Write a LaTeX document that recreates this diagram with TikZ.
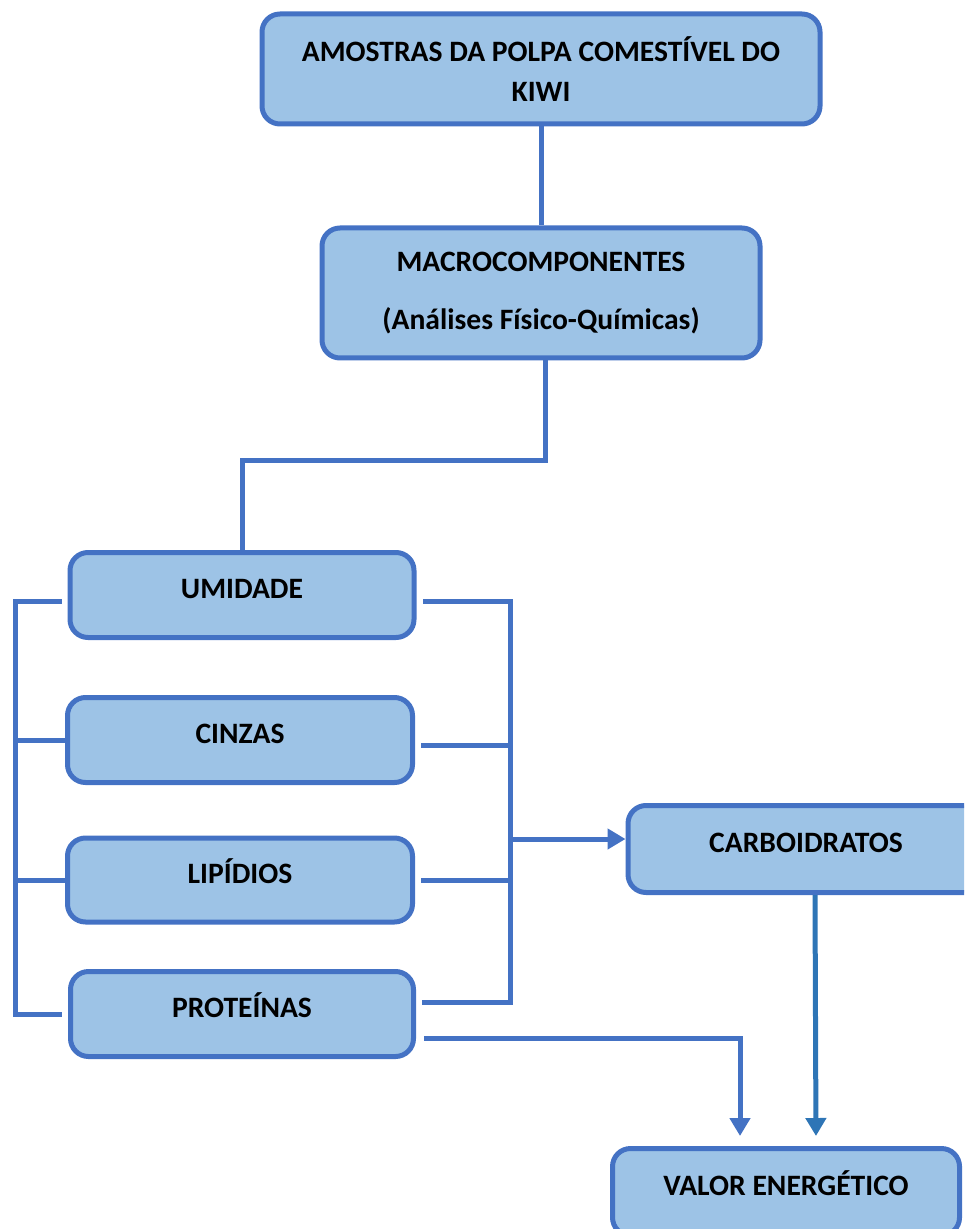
\documentclass[tikz,border=0pt]{standalone}
\usepackage{fontspec}
\setmainfont{Carlito}
\usepackage{xcolor}
\usepackage{tikz}
\usetikzlibrary{
  arrows.meta,
  positioning
}
\definecolor{caixafill}{HTML}{9DC3E6}
\definecolor{caixaline}{HTML}{4472C4}
\definecolor{setaazul}{HTML}{2E75B6}

\begin{document}
\begin{tikzpicture}[
  x=0.5pt, y=-0.5pt,
  caixa/.style={draw=caixaline, fill=caixafill, line width=2.5pt,
                rounded corners=9pt, align=center, inner sep=2pt,
                font=\bfseries\fontsize{14.8}{20}\selectfont},
  umalinha/.style={caixa, text height=10pt, text depth=6.6pt},
  linha/.style={draw=caixaline, line width=2.5pt},
  seta/.style={linha, -{Triangle[length=9pt,width=10pt]}},
]
  \useasboundingbox (0,0) rectangle (964,1229);
  \clip (0,0) rectangle (964,1229);

  % Boxes
  \node[caixa, minimum width=279pt, minimum height=55pt] (amostras)
    at (541, 69) {AMOSTRAS DA POLPA COMESTÍVEL DO\\KIWI};
  \node[caixa, minimum width=219pt, minimum height=65pt] (macro)
    at (541, 293) {MACROCOMPONENTES\\[9pt](Análises Físico-Químicas)};
  \node[umalinha, minimum width=172pt, minimum height=42.5pt] (umid)
    at (242, 595) {UMIDADE};
  \node[umalinha, minimum width=172.5pt, minimum height=42.5pt] (cinz)
    at (240, 740) {CINZAS};
  \node[umalinha, minimum width=172.5pt, minimum height=42pt] (lipi)
    at (240, 880) {LIPÍDIOS};
  \node[umalinha, minimum width=171.5pt, minimum height=42.5pt] (prot)
    at (242, 1014) {PROTEÍNAS};
  \node[umalinha, minimum width=178pt, minimum height=43.5pt] (carb)
    at (806, 849) {CARBOIDRATOS};
  \node[umalinha, minimum width=173.5pt, minimum height=43.5pt] (valor)
    at (786, 1192) {VALOR ENERGÉTICO};

  % Bracket points
  \coordinate (esq) at (15, 0);
  \coordinate (dir) at (510, 0);

  % Connectors
  \draw[linha] (amostras.south) -- (macro.south |- macro.north);
  \draw[linha] ([xshift=2pt]macro.south) -- ++(0, 100) -| (umid.north);

  \draw[linha] ([xshift=-3pt, yshift=-3pt]umid.west) -| (esq |- prot.west)
    -- ([xshift=-3pt]prot.west);
  \draw[linha] (cinz.west) -- (esq |- cinz.west);
  \draw[linha] (lipi.west) -- (esq |- lipi.west);

  \draw[linha] ([xshift=3pt, yshift=6pt]prot.east) coordinate (pd)
    -- (dir |- pd) |- ([xshift=3pt, yshift=-3pt]umid.east);
  \draw[linha] ([xshift=3pt, yshift=-2.5pt]cinz.east) coordinate (cd)
    -- (dir |- cd);
  \draw[linha] ([xshift=3pt]lipi.east) -- (dir |- lipi.east);
  \draw[seta] ([yshift=5pt]dir |- carb.west) -- ([yshift=5pt]carb.west);

  \draw[seta, shorten >=5pt] ([xshift=4pt, yshift=-12pt]prot.east)
    -| ([xshift=-23pt]valor.north);
  \draw[seta, draw=setaazul, shorten >=5pt] ([xshift=4.5pt]carb.south)
    -- ([xshift=15pt]valor.north);

\end{tikzpicture}
\end{document}
